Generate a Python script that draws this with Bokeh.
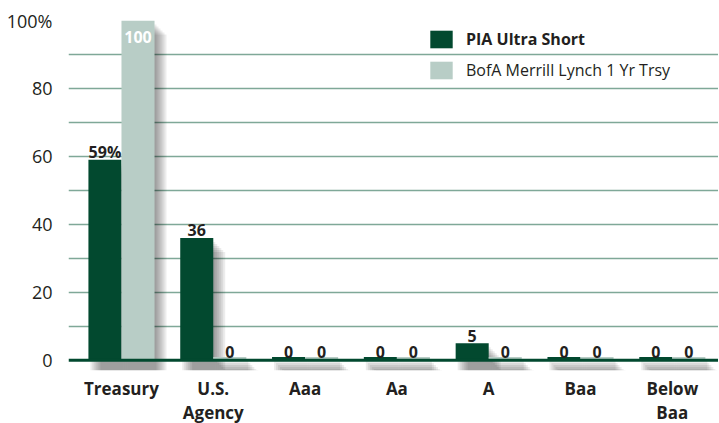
from bokeh.plotting import figure
from bokeh.models import (Range1d, FixedTicker, Span, Legend, LegendItem,
                          ColumnDataSource)
from bokeh.core.properties import value
from bokeh.embed import file_html
from bokeh.resources import INLINE
import numpy as np

# ---- data ----
categories = ["Treasury", "U.S.\nAgency", "Aaa", "Aa", "A", "Baa", "Below\nBaa"]
pia_ultra_short = [59, 36, 0, 0, 5, 0, 0]
bofa_1yr_trsy = [100, 0, 0, 0, 0, 0, 0]
pia_labels = ["59%", "36", "0", "0", "5", "0", "0"]
bofa_labels = ["100", "0", "0", "0", "0", "0", "0"]
y_ticks = [0, 20, 40, 60, 80, 100]
y_tick_labels = ["0", "20", "40", "60", "80", "100%"]
series_names = ["PIA Ultra Short", "BofA Merrill Lynch 1 Yr Trsy"]

DARK = "#02492f"
LIGHT = "#b8cdc6"
GRID = "#7fa898"
TEXT = "#231f20"
FONT = "Open Sans"

x = np.arange(len(categories), dtype=float)
bw = 0.36
pia = np.array(pia_ultra_short, dtype=float)
bofa = np.array(bofa_1yr_trsy, dtype=float)
min_h = 1.0  # visible strip for zero bars

FH = 350
p = figure(frame_width=650, frame_height=FH, output_backend="svg",
           toolbar_location=None,
           x_range=Range1d(-0.577, 6.503), y_range=Range1d(-3, 100),
           min_border_left=68, min_border_right=0, min_border_top=20,
           min_border_bottom=0)
p.outline_line_color = None
p.background_fill_color = "white"

# grid
p.xgrid.grid_line_color = None
p.ygrid.ticker = FixedTicker(ticks=list(range(10, 101, 10)))
p.ygrid.grid_line_color = GRID
p.ygrid.grid_line_width = 1.6

# y axis
p.yaxis.ticker = FixedTicker(ticks=y_ticks)
p.yaxis.major_label_overrides = {t: l for t, l in zip(y_ticks, y_tick_labels)}
p.yaxis.axis_line_color = None
p.yaxis.major_tick_line_color = None
p.yaxis.minor_tick_line_color = None
p.yaxis.major_label_standoff = 10
p.yaxis.major_label_text_font = FONT
p.yaxis.major_label_text_font_size = "18px"
p.yaxis.major_label_text_color = TEXT

# x axis
p.xaxis.ticker = FixedTicker(ticks=list(x))
p.xaxis.major_label_overrides = {float(i): c for i, c in zip(x, categories)}
p.xaxis.axis_line_color = None
p.xaxis.major_tick_line_color = None
p.xaxis.minor_tick_line_color = None
p.xaxis.major_label_standoff = 0
p.xaxis.major_label_text_font = FONT
p.xaxis.major_label_text_font_style = "bold"
p.xaxis.major_label_text_font_size = "17px"
p.xaxis.major_label_text_color = TEXT
p.xaxis.major_label_text_line_height = 1.08

# soft drop shadows (offset right/down, layered)
px = 1 / 92.0   # ~data units per pixel in x
py = 1 / 3.4    # data units per pixel in y
for k in range(1, 7):
    for xs, vals in ((x - bw / 2, pia), (x + bw / 2, bofa)):
        p.vbar(x=xs + 2 * k * px, width=bw, bottom=-3,
               top=np.maximum(vals, min_h) - (2 * k + 2) * py,
               fill_color="black", fill_alpha=0.075, line_color=None)

# bars
r1 = p.vbar(x=x - bw / 2, width=bw, bottom=0, top=np.maximum(pia, min_h),
            fill_color=DARK, line_color=None)
r2 = p.vbar(x=x + bw / 2, width=bw, bottom=0, top=np.maximum(bofa, min_h),
            fill_color=LIGHT, line_color=None)

# zero line
p.add_layout(Span(location=0, dimension="width", line_color=DARK, line_width=3))

# value labels
lab_font = value(FONT)
inside = bofa >= 90
p.text(x=x - bw / 2, y=pia + 2.3, text=pia_labels, text_align="center",
       text_baseline="alphabetic", text_font=lab_font, text_font_size="16px",
       text_font_style="bold", text_color=TEXT)
src_out = ColumnDataSource(dict(x=(x + bw / 2)[~inside], y=(bofa + 2.3)[~inside],
                                t=[l for l, f in zip(bofa_labels, inside) if not f]))
src_in = ColumnDataSource(dict(x=(x + bw / 2)[inside], y=(bofa - 5)[inside],
                               t=[l for l, f in zip(bofa_labels, inside) if f]))
p.text(x="x", y="y", text="t", source=src_out, text_align="center",
       text_baseline="alphabetic", text_font=lab_font, text_font_size="16px",
       text_font_style="bold", text_color=TEXT)
p.text(x="x", y="y", text="t", source=src_in, text_align="center",
       text_baseline="alphabetic", text_font=lab_font, text_font_size="16px",
       text_font_style="bold", text_color="white")

# legends (one per item so the first can be bold)
common = dict(orientation="vertical", glyph_width=28, glyph_height=22,
              label_standoff=11, padding=0, margin=0, background_fill_alpha=0,
              border_line_color=None, label_text_font=FONT,
              label_text_font_size="16px", label_text_color=TEXT, label_height=22)
leg1 = Legend(items=[LegendItem(label=series_names[0], renderers=[r1])],
              location=(359, FH - 8 - 22), label_text_font_style="bold", **common)
leg2 = Legend(items=[LegendItem(label=series_names[1], renderers=[r2])],
              location=(359, FH - 39 - 22), **common)
p.add_layout(leg1)
p.add_layout(leg2)

open("out.html", "w").write(file_html(p, INLINE))
